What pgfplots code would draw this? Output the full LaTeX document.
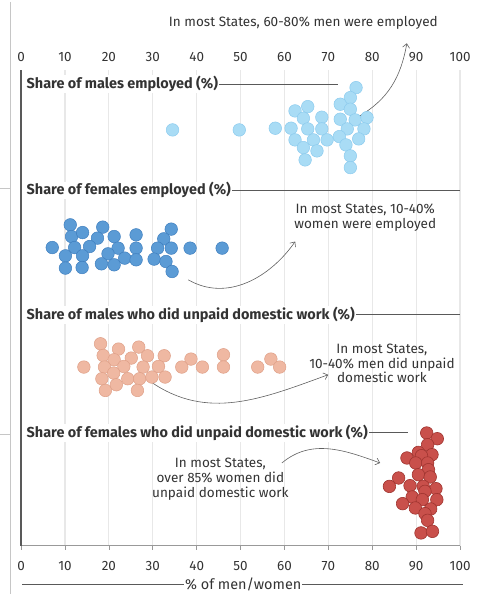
\documentclass[border=0pt]{standalone}
\usepackage{pgfplots}
\pgfplotsset{compat=1.18}
\usepackage{fontspec}
\setmainfont{Fira Sans}
\usetikzlibrary{arrows.meta}
\definecolor{cA}{HTML}{A9DCF5}\definecolor{cAe}{HTML}{8CCBEE}
\definecolor{cB}{HTML}{5B9BD5}\definecolor{cBe}{HTML}{3F7FBF}
\definecolor{cC}{HTML}{EFB8A2}\definecolor{cCe}{HTML}{DFA088}
\definecolor{cD}{HTML}{C9504B}\definecolor{cDe}{HTML}{A03530}
\definecolor{txt}{HTML}{333333}
\definecolor{gridc}{HTML}{E8E8E8}
\begin{document}
\begin{tikzpicture}
\pgfplotsset{common/.style={
  scale only axis, width=439.3bp, height=476bp,
  xmin=0, xmax=100, ymin=-546, ymax=-70,
  xtick={0,10,...,100}, ytick=\empty, clip=false,
  ticklabel style={font=\fontsize{13.5}{15}\selectfont, text=txt},
  /pgf/number format/assume math mode=true,
}}
\begin{axis}[common,
  axis x line*=bottom, axis y line*=left,
  axis line style={-},
  x axis line style={draw=gray!80, line width=0.7bp},
  y axis line style={draw=black!65, line width=1.3bp},
  xtick align=outside, major tick length=4bp,
  xtick style={draw=gray!80, line width=0.7bp},
  xmajorgrids, grid style={draw=gridc, line width=1.2bp},
  xticklabel style={yshift=-8bp},
]
% page bounds
\path (axis cs:-4.712,0) rectangle (axis cs:104.78,-594);
% page artifacts
\draw[gray!45, line width=0.8bp] (axis cs:-2.436,-2) -- (axis cs:-2.436,-594);
\draw[gray!45, line width=0.8bp] (axis cs:-4.712,-189) -- (axis cs:-2.436,-189);
\draw[gray!45, line width=0.8bp] (axis cs:-4.712,-435) -- (axis cs:-2.436,-435);

% row label lines
\draw[gray!70!black, line width=0.6bp] (axis cs:1.3,-84) -- (axis cs:72.2,-84);
\draw[gray!70!black, line width=0.6bp] (axis cs:1.3,-190.5) -- (axis cs:100,-190.5);
\draw[gray!70!black, line width=0.6bp] (axis cs:1.3,-315) -- (axis cs:100,-315);
\draw[gray!70!black, line width=0.6bp] (axis cs:1.3,-433) -- (axis cs:88.2,-433);
\tikzset{rowlab/.style={anchor=west, fill=white, inner xsep=1bp, inner ysep=1bp, text=txt, font=\fontsize{14.5}{16}\selectfont\bfseries}}
\node[rowlab] at (axis cs:1.0,-84) {Share of males employed (\%)};
\node[rowlab] at (axis cs:1.0,-190.5) {Share of females employed (\%)};
\node[rowlab] at (axis cs:1.0,-315) {Share of males who did unpaid domestic work (\%)};
\node[rowlab] at (axis cs:1.0,-433) {Share of females who did unpaid domestic work (\%)};

% x label
\draw[gray!70!black, line width=0.6bp] (axis cs:0.3,-585) -- (axis cs:100.7,-585);
\node[fill=white, inner xsep=1bp, inner ysep=1bp, text=txt, font=\fontsize{14.5}{16}\selectfont] at (axis cs:50.6,-585) {\% of men/women};

% row 1: males employed
\addplot[only marks, mark=*, mark size=6.3bp, mark options={fill=cA, draw=cAe, line width=0.5bp}] coordinates {
(76.3,-87.7)(75.0,-97.7)(72.7,-104.3)(75.0,-109.3)(62.4,-111)(65.3,-106.7)(64.3,-118.3)(68.5,-117.3)(72.7,-119.3)(76.1,-120)(78.8,-117.7)
(34.5,-130)(49.7,-130)(57.9,-128.3)(61.5,-128.3)(65.3,-129)(68.5,-129)(74.3,-129)(78.1,-129)
(62.4,-140)(66.6,-140)(69.7,-140)(72.5,-136.7)(76.9,-139)(64.3,-147.7)(67.4,-151)(74.0,-145)(64.7,-160)(75.0,-156)(75.0,-167.7)};
% row 2: females employed
\addplot[only marks, mark=*, mark size=6.3bp, mark options={fill=cB, draw=cBe, line width=0.5bp}] coordinates {
(11.2,-225)(18.6,-227.3)(34.2,-229.3)(11.5,-236.7)(14.0,-232.7)(17.4,-238.3)(21.2,-236.7)(26.2,-235)(32.5,-239)
(7.1,-247.7)(12.2,-247.7)(15.6,-246.7)(22.1,-248.3)(26.2,-248.3)(31.1,-248.3)(34.2,-248.3)
(10.1,-256)(14.0,-256)(19.8,-254)(23.6,-258.3)(26.2,-260)(30.3,-259.3)
(10.1,-268.3)(13.9,-267.7)(18.3,-264)(21.2,-265)(33.0,-261.7)(34.4,-271.7)(38.5,-248.3)(45.8,-248.3)};
% row 3: males unpaid domestic work
\addplot[only marks, mark=*, mark size=6.3bp, mark options={fill=cC, draw=cCe, line width=0.5bp}] coordinates {
(18.1,-344)(22.2,-349.3)(26.8,-347.3)(18.7,-355.7)(21.2,-360)(25.1,-358.3)(28.8,-356)(32.6,-356)(38.7,-359.3)(46.1,-355)(56.9,-359.3)
(14.3,-367.3)(19.0,-367.3)(23.4,-366.7)(27.8,-367.3)(31.3,-366.7)(36.6,-367.3)(41.3,-367.3)(46.1,-367.3)(53.9,-367.3)(58.9,-367.3)
(21.1,-373.3)(18.4,-379)(24.3,-379)(27.0,-379)(29.8,-377.3)(32.8,-377.3)(19.2,-390.7)(21.7,-385)(26.5,-390.7)};
% row 4: females unpaid domestic work
\addplot[only marks, mark=*, mark size=6.3bp, mark options={fill=cD, draw=cDe, line width=0.6bp}] coordinates {
(92.4,-433.3)(94.8,-439)(92.6,-445)(90.5,-452.7)(87.9,-458.3)(93.6,-455)(91.2,-456)(89.9,-463.3)(92.6,-463.3)(92.8,-470)
(90.5,-475)(93.2,-477.3)(86.0,-478.3)(83.9,-486.7)(88.6,-486)(91.6,-486.7)(94.5,-489)(92.0,-491.7)
(89.1,-497.3)(91.4,-500)(94.7,-500)(86.9,-504)(89.8,-508.3)(93.3,-509.3)(92.0,-514)(92.6,-520.7)(91.1,-533.3)(93.7,-531.7)};

% annotations
\tikzset{ann/.style={text=txt, align=center, font=\fontsize{13.6}{14.6}\selectfont},
         arr/.style={draw=gray!75!black, line width=0.6bp, -{Straight Barb[length=4bp,width=7bp]}}}
\node[ann] at (axis cs:64.3,-22.7) {In most States, 60-80\% men were employed};
\draw[arr] (axis cs:76.85,-116.7) to[out=30,in=-100] (axis cs:87.87,-43.3);
\node[ann] at (axis cs:78.4,-218) {In most States, 10-40\%\\women were employed};
\draw[arr] (axis cs:38.08,-280) to[out=-30,in=-125] (axis cs:62.44,-241.7);
\node[ann] at (axis cs:82.2,-364) {In most States,\\10-40\% men did unpaid\\domestic work};
\draw[arr] (axis cs:29.43,-381.7) to[out=-35,in=-160] (axis cs:69.95,-375);
\node[ann] at (axis cs:45.4,-479.5) {In most States,\\over 85\% women did\\unpaid domestic work};
\draw[arr] (axis cs:59.41,-463.3) to[out=40,in=160] (axis cs:81.79,-463.3);
\end{axis}
\begin{axis}[common,
  axis x line*=top, axis y line=none,
  x axis line style={draw=none}, xtick style={draw=none},
  xticklabel style={yshift=5bp},
]
\addplot[draw=none] coordinates {(0,-100)};
\end{axis}
\end{tikzpicture}
\end{document}
